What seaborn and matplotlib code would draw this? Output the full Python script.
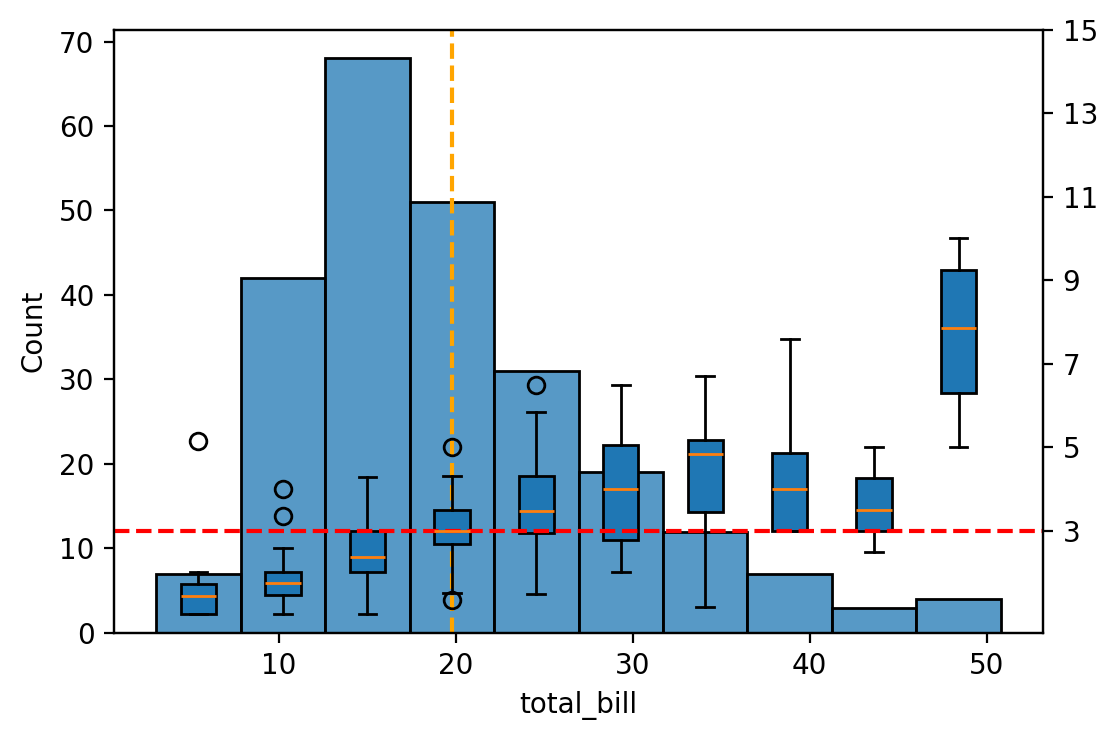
import numpy as np
import pandas as pd
import matplotlib
matplotlib.use("Agg")
import matplotlib.pyplot as plt
import seaborn as sns

# Histogram of total_bill (10 bins)
bin_edges = [3.07, 7.844, 12.618, 17.392, 22.166, 26.94, 31.714, 36.488, 41.262, 46.036, 50.81]
counts = [7, 42, 68, 51, 31, 19, 12, 7, 3, 4]

# Tip box statistics per total_bill bin
tip_med = [1.44, 1.75, 2.37, 3.0, 3.47, 4.0, 4.84, 4.0, 3.5, 7.865]
tip_q1 = [1.0, 1.47, 2.0, 2.67, 2.95, 2.78, 3.45, 3.0, 3.0, 6.30]
tip_q3 = [1.72, 2.0, 3.0, 3.5, 4.31, 5.04, 5.18, 4.87, 4.25, 9.25]
tip_whislo = [1.0, 1.0, 1.0, 1.5, 1.48, 2.0, 1.17, 3.0, 2.5, 5.0]
tip_whishi = [2.0, 2.59, 4.29, 4.3, 5.84, 6.5, 6.71, 7.58, 5.0, 10.0]
tip_fliers = [[5.15], [3.35, 4.0], [], [1.35, 5.0], [6.5], [], [], [], [], []]

mean_total_bill = 19.786
mean_tip = 2.998
right_ticks = [3, 5, 7, 9, 11, 13, 15]

edges = np.array(bin_edges)
centers = (edges[:-1] + edges[1:]) / 2
df = pd.DataFrame({"total_bill": centers, "n": counts})

fig, ax = plt.subplots(figsize=(5.59, 3.71), dpi=200)
fig.subplots_adjust(left=0.102, right=0.933, top=0.960, bottom=0.147)

sns.histplot(data=df, x="total_bill", weights="n", bins=bin_edges, ax=ax, edgecolor="black")
ax.set_xlabel("total_bill")
ax.set_ylabel("Count")
ax.axvline(mean_total_bill, color="orange", linestyle="--")

ax2 = ax.twinx()
stats = []
for i in range(len(centers)):
    stats.append(dict(med=tip_med[i], q1=tip_q1[i], q3=tip_q3[i],
                      whislo=tip_whislo[i], whishi=tip_whishi[i],
                      fliers=tip_fliers[i]))
ax2.bxp(stats, positions=centers, widths=2, patch_artist=True, manage_ticks=False)
ax2.axhline(mean_tip, color="red", linestyle="--")
ax2.set_yticks(right_ticks)
ax2.set_ylim(0.55, 15)

fig.savefig("out.png", dpi=200)
